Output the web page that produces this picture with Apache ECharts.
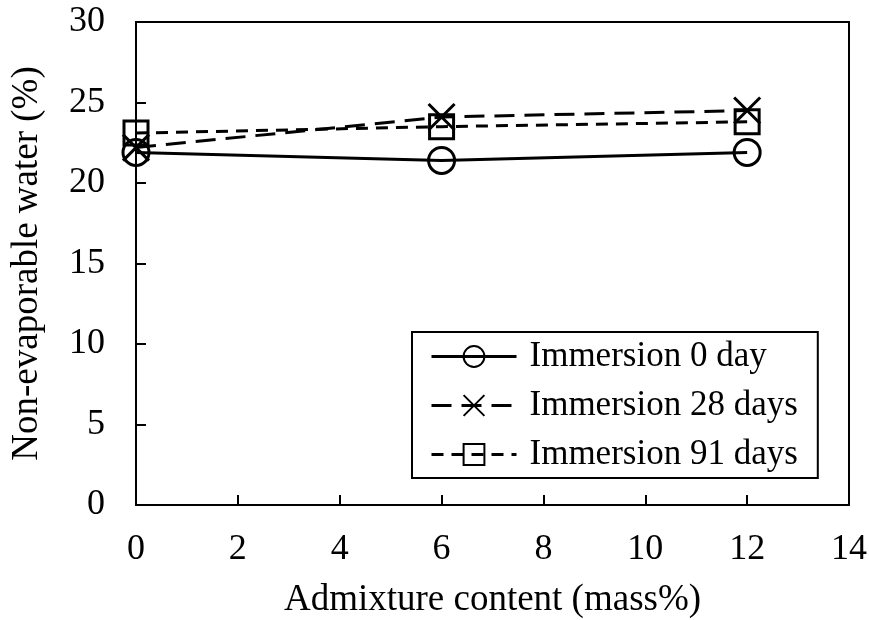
<!DOCTYPE html>
<html><head><meta charset="utf-8">
<script src="https://cdn.jsdelivr.net/npm/echarts@6/dist/echarts.min.js"></script>
<style>html,body{margin:0;padding:0;background:#fff}#c{width:869px;height:620px}</style>
</head><body><div id="c"></div>
<script>
const xValues = [0, 6, 12];
const day0 = [21.9, 21.4, 21.9];
const day28 = [22.2, 24.1, 24.5];
const day91 = [23.1, 23.5, 23.8];
const seriesNames = ['Immersion 0 day', 'Immersion 28 days', 'Immersion 91 days'];

const FONT = 'Liberation Serif';
const chart = echarts.init(document.getElementById('c'));
const pts = arr => xValues.map((x, i) => [x, arr[i]]);
const xMark = 'path://M0,0L10,10M10,0L0,10';

chart.setOption({
  animation: false,
  grid: { left: 136, right: 20, top: 22, bottom: 115, outerBoundsMode: 'none', containLabel: false, show: true, borderColor: '#000', borderWidth: 2, backgroundColor: 'transparent' },
  xAxis: {
    type: 'value', min: 0, max: 14, interval: 2,
    name: 'Admixture content (mass%)', nameLocation: 'middle', nameGap: 77,
    nameTextStyle: { fontFamily: FONT, fontSize: 37, color: '#000' },
    axisLine: { lineStyle: { color: '#000', width: 2 } },
    axisTick: { inside: true, length: 10, lineStyle: { color: '#000', width: 2 } },
    axisLabel: { fontFamily: FONT, fontSize: 36, color: '#000', margin: 27 },
    splitLine: { show: false }
  },
  yAxis: {
    type: 'value', min: 0, max: 30, interval: 5,
    name: 'Non-evaporable water (%)', nameLocation: 'middle', nameGap: 90,
    nameTextStyle: { fontFamily: FONT, fontSize: 37, color: '#000' },
    axisLine: { lineStyle: { color: '#000', width: 2 } },
    axisTick: { inside: true, length: 10, lineStyle: { color: '#000', width: 2 } },
    axisLabel: { fontFamily: FONT, fontSize: 36, color: '#000', margin: 31 },
    splitLine: { show: false }
  },
  legend: {
    orient: 'vertical', left: 412, top: 332,
    backgroundColor: '#fff',
    borderColor: '#000', borderWidth: 2,
    padding: [7, 20, 6, 18],
    itemWidth: 85, itemHeight: 26, itemGap: 14,
    lineStyle: { width: 3 },
    textStyle: { fontFamily: FONT, fontSize: 35, color: '#000', padding: [0, 0, 0, 8] },
    data: seriesNames
  },
  series: [
    {
      name: seriesNames[0], type: 'line', data: pts(day0),
      symbol: 'circle', symbolSize: 26,
      lineStyle: { color: '#000', width: 3, type: 'solid' },
      itemStyle: { color: 'none', borderColor: '#000', borderWidth: 3 },
      z: 3
    },
    {
      name: seriesNames[1], type: 'line', data: pts(day28),
      symbol: xMark, symbolSize: 26,
      lineStyle: { color: '#000', width: 3, type: [20, 10] },
      itemStyle: { color: 'none', borderColor: '#000', borderWidth: 3 },
      z: 4
    },
    {
      name: seriesNames[2], type: 'line', data: pts(day91),
      symbol: 'rect', symbolSize: 24,
      lineStyle: { color: '#000', width: 3, type: [12, 8] },
      itemStyle: { color: 'none', borderColor: '#000', borderWidth: 3 },
      z: 5
    }
  ]
});
</script></body></html>
